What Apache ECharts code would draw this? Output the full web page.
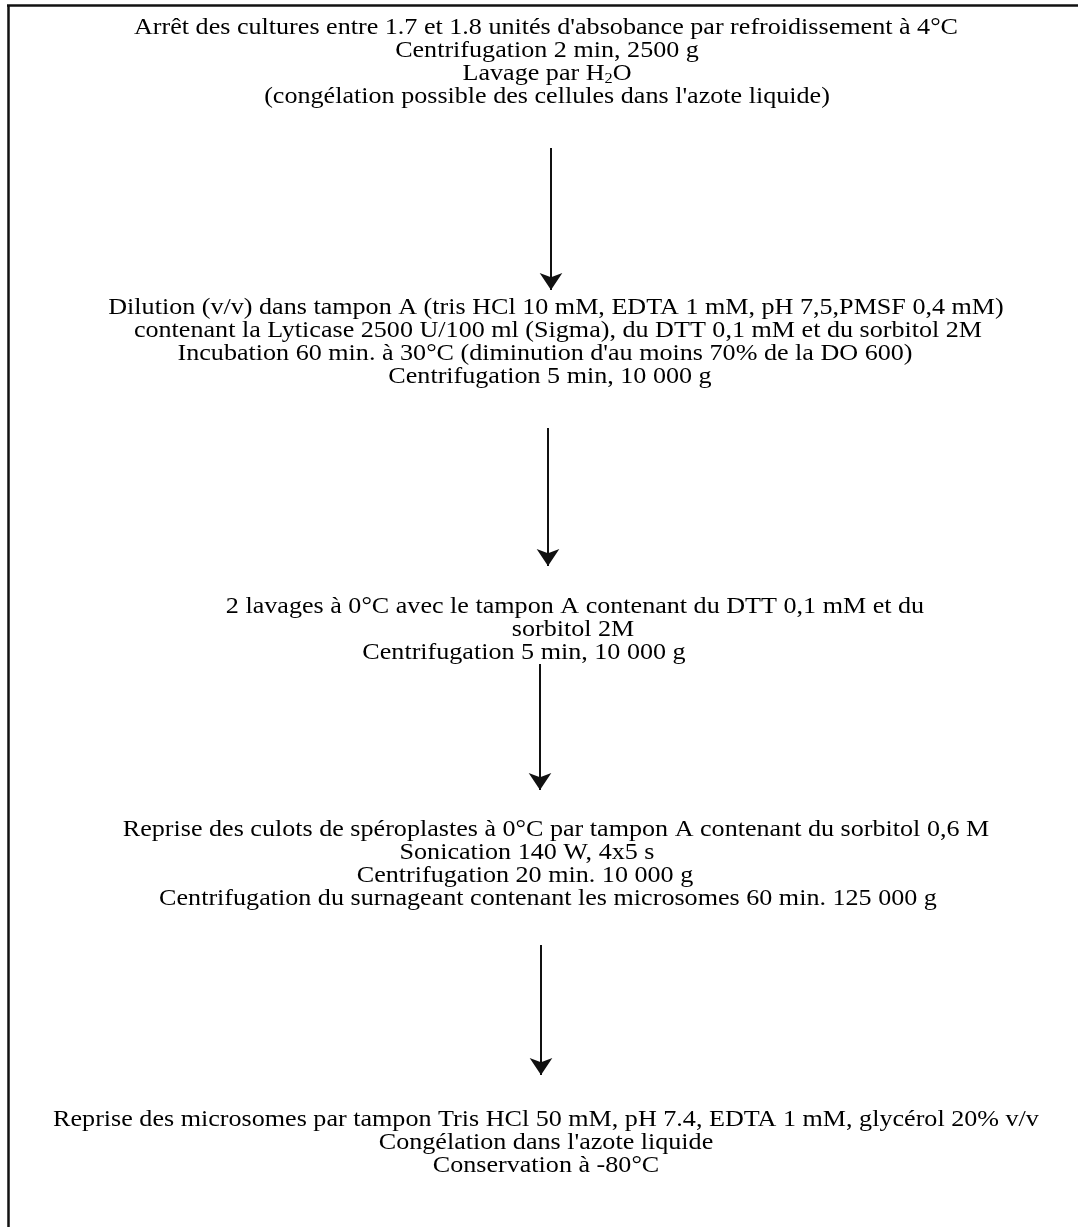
<!DOCTYPE html>
<html><head><meta charset="utf-8">
<script src="https://cdn.jsdelivr.net/npm/echarts@6/dist/echarts.min.js"></script>
<style>html,body{margin:0;padding:0;background:#fff}#c{width:1078px;height:1227px}</style>
</head><body><div id="c"></div>
<script>
// ---- content (steps of the protocol) ----
const step1 = [
  "Arrêt des cultures entre 1.7 et 1.8 unités d'absobance par refroidissement à 4°C",
  "Centrifugation 2 min, 2500 g",
  "Lavage par H{s|2}O",
  "(congélation possible des cellules dans l'azote liquide)"
];
const step2 = [
  "Dilution (v/v) dans tampon A (tris HCl 10 mM, EDTA 1 mM, pH 7,5,PMSF 0,4 mM)",
  "contenant la Lyticase 2500 U/100 ml (Sigma), du DTT 0,1 mM et du sorbitol 2M",
  "Incubation 60 min. à 30°C (diminution d'au moins 70% de la DO 600)",
  "Centrifugation 5 min, 10 000 g"
];
const step3 = [
  "2 lavages à 0°C avec le tampon A contenant du DTT 0,1 mM et du",
  "sorbitol 2M",
  "Centrifugation 5 min, 10 000 g"
];
const step4 = [
  "Reprise des culots de spéroplastes à 0°C par tampon A contenant du sorbitol 0,6 M",
  "Sonication 140 W, 4x5 s",
  "Centrifugation 20 min. 10 000 g",
  "Centrifugation du surnageant contenant les microsomes 60 min. 125 000 g"
];
const step5 = [
  "Reprise des microsomes par tampon Tris HCl 50 mM, pH 7.4, EDTA 1 mM, glycérol 20% v/v",
  "Congélation dans l'azote liquide",
  "Conservation à -80°C"
];
const steps = [step1, step2, step3, step4, step5];

// ---- layout (page coordinates, 1:1 with pixels) ----
const W = 1078, H = 1227;
const stepTop = [28, 308, 607, 830, 1120];
const LINE_GAP = 23;
const lineCenters = [
  [546, 547, 547, 547],
  [556, 558, 545, 550],
  [575, 573, 524],
  [556, 527, 525, 548],
  [546, 546, 546]
];
const arrowLayout = [[551, 148, 290], [548, 428, 566], [540, 664, 790], [541, 945, 1075]];
const frameLines = [[[8, H], [8, 5]], [[7, 5], [W, 5]]];
const FONT_SIZE = 22.5, SCALE_X = 1.16;

const textData = [];
steps.forEach((lines, s) => lines.forEach((t, l) => {
  textData.push([lineCenters[s][l], stepTop[s] + l * LINE_GAP, s, l]);
}));

const chart = echarts.init(document.getElementById('c'), null, {renderer: 'canvas'});
chart.setOption({
  animation: false,
  backgroundColor: '#fff',
  grid: {left: 0, right: 0, top: 0, bottom: 0},
  xAxis: {type: 'value', min: 0, max: W, show: false},
  yAxis: {type: 'value', min: 0, max: H, inverse: true, show: false},
  series: [
    {
      type: 'lines', coordinateSystem: 'cartesian2d',
      symbol: 'none', silent: true,
      lineStyle: {color: '#111', width: 2.5, opacity: 1, curveness: 0},
      data: frameLines.map(c => ({coords: c}))
    },
    {
      type: 'lines', coordinateSystem: 'cartesian2d',
      symbol: ['none', 'arrow'], symbolSize: [8, 17], silent: true,
      lineStyle: {color: '#111', width: 2, opacity: 1},
      data: arrowLayout.map(a => ({coords: [[a[0], a[1]], [a[0], a[2]]]}))
    },
    {
      type: 'custom', coordinateSystem: 'cartesian2d', silent: true,
      data: textData,
      renderItem: function (params, api) {
        const s = api.value(2), l = api.value(3);
        const p = api.coord([api.value(0), api.value(1)]);
        return {
          type: 'text', x: p[0], y: p[1], scaleX: SCALE_X,
          style: {
            text: steps[s][l],
            fontFamily: '"Liberation Serif", "Times New Roman", serif',
            fontSize: FONT_SIZE, fill: '#000',
            align: 'center', verticalAlign: 'middle', lineHeight: 24,
            rich: {
              s: {fontSize: 14, lineHeight: 14, verticalAlign: 'bottom',
                  fontFamily: '"Liberation Serif", serif', fill: '#000'}
            }
          }
        };
      }
    }
  ]
});
</script></body></html>
